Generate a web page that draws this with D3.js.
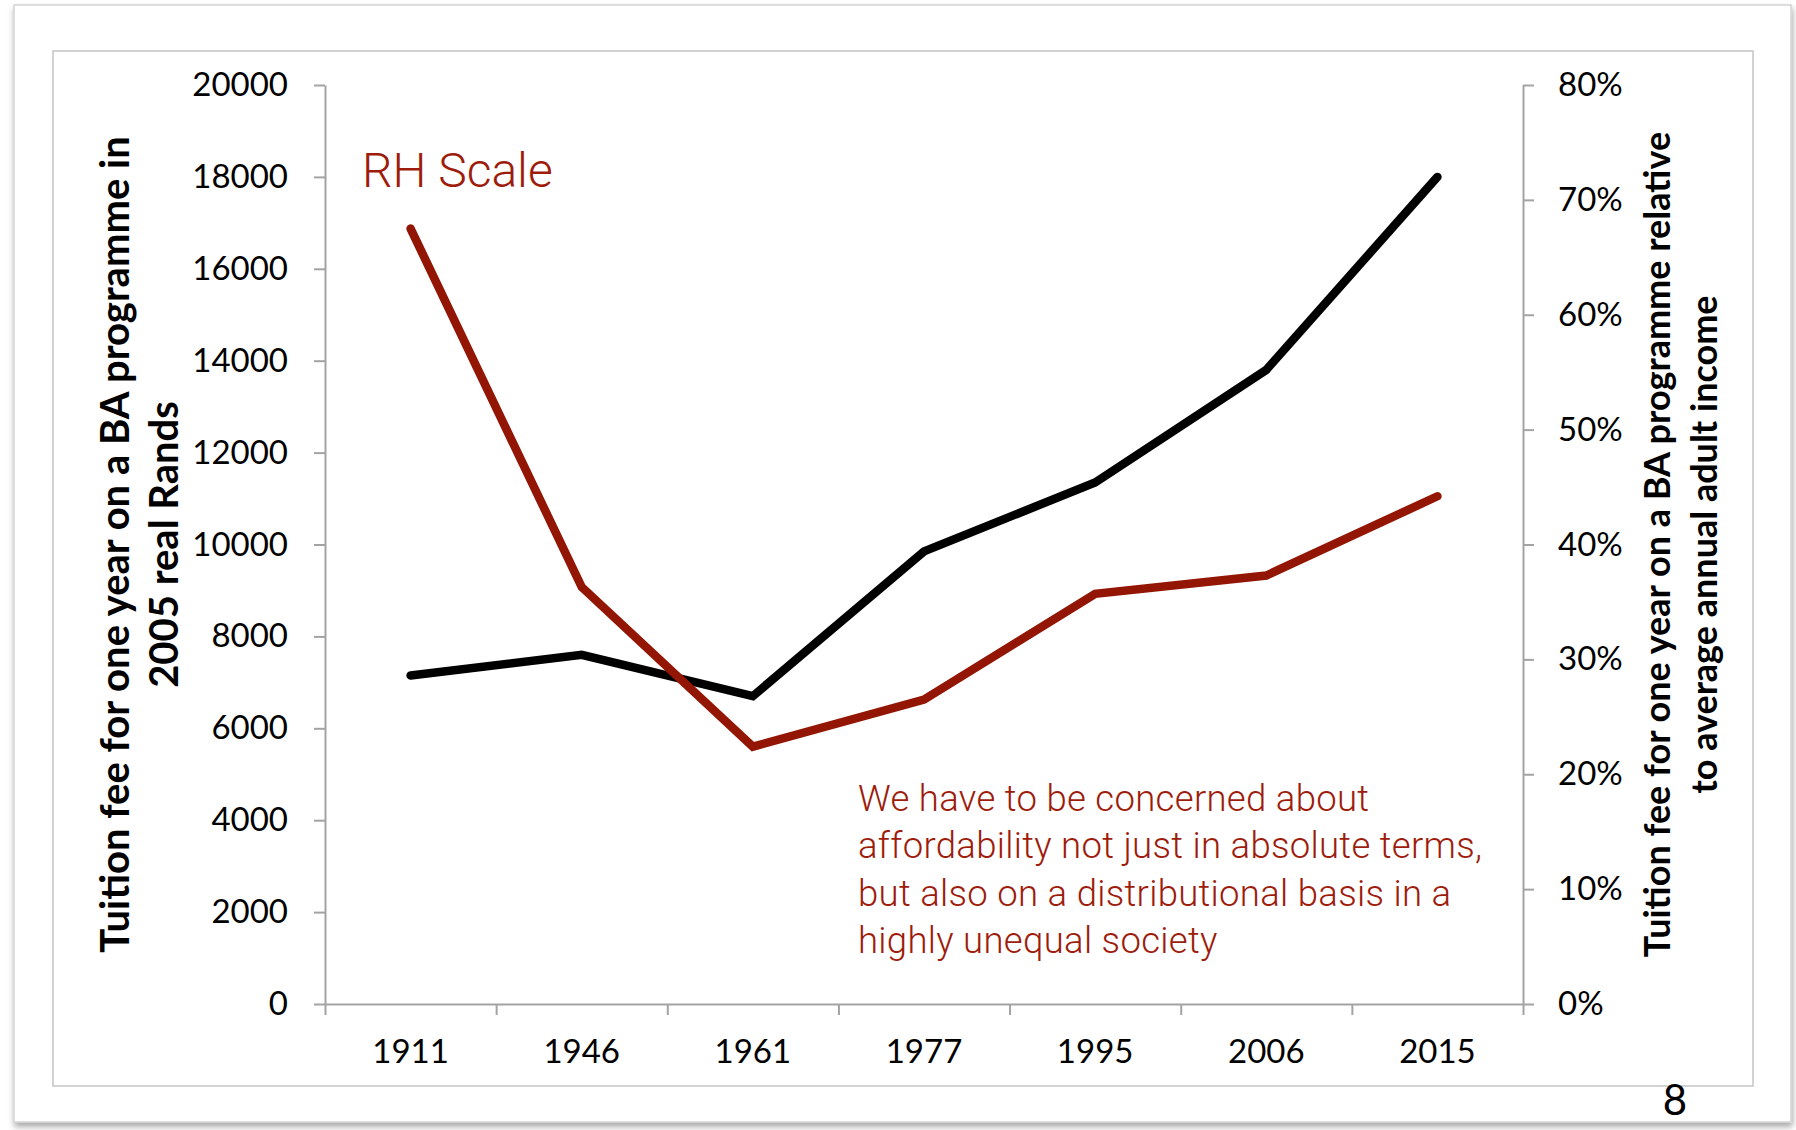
<!DOCTYPE html>
<html>
<head>
<meta charset="utf-8">
<script src="https://cdn.jsdelivr.net/npm/d3@7"></script>
<style>
  html, body { margin: 0; padding: 0; background: #ffffff; }
  svg { display: block; }
  .tick text { font-family: Lato, "Open Sans", sans-serif; }
</style>
</head>
<body>
<svg id="chart" width="1796" height="1130"></svg>
<script>
// Survey years (category axis)
const years = ["1911", "1946", "1961", "1977", "1995", "2006", "2015"];
// Tuition fee for one year of a BA, 2005 real Rands (left scale)
const feeRands = [7150, 7600, 6700, 9850, 11350, 13800, 18000];
// Same fee as a share of average annual adult income (right scale)
const feeShareOfIncome = [0.675, 0.363, 0.224, 0.265, 0.357, 0.373, 0.442];
// Axis tick values
const leftTicks = [0, 2000, 4000, 6000, 8000, 10000, 12000, 14000, 16000, 18000, 20000];
const rightTicks = [0, 0.1, 0.2, 0.3, 0.4, 0.5, 0.6, 0.7, 0.8];

const leftTitle = ["Tuition fee for one year on a BA programme in", "2005 real Rands"];
const rightTitle = ["Tuition fee for one year on a BA programme relative", "to average annual adult income"];
const noteLines = [
  "We have to be concerned about",
  "affordability not just in absolute terms,",
  "but also on a distributional basis in a",
  "highly unequal society"
];

const svg = d3.select("#chart");
const RED_LINE = "#931604";
const RED_TEXT = "#9d1c0c";
const AXIS = "#a3a3a3";
const labelFont = "Lato, 'Open Sans', sans-serif";
const lightFont = "Roboto, 'Helvetica Neue', Arial, sans-serif";

// Slide page with soft shadow
const defs = svg.append("defs");
const sh = defs.append("filter").attr("id", "pageShadow")
  .attr("x", "-2%").attr("y", "-2%").attr("width", "104%").attr("height", "106%");
sh.append("feDropShadow").attr("dx", 1).attr("dy", 4).attr("stdDeviation", 3)
  .attr("flood-color", "#000").attr("flood-opacity", 0.35);

svg.append("rect").attr("x", 14).attr("y", 5).attr("width", 1777).attr("height", 1117)
  .attr("fill", "#fff").attr("stroke", "#d4d4d4").attr("stroke-width", 1.5)
  .attr("filter", "url(#pageShadow)");

// Chart frame
svg.append("rect").attr("x", 53).attr("y", 51).attr("width", 1700).attr("height", 1035)
  .attr("fill", "#fff").attr("stroke", "#c4c4c4").attr("stroke-width", 1.5);

// Plot area
const plot = { left: 325, right: 1523, top: 85, bottom: 1004 };

const x = d3.scaleBand().domain(years).range([plot.left, plot.right]).padding(0);
const yL = d3.scaleLinear().domain([0, 20000]).range([plot.bottom, plot.top]);
const yR = d3.scaleLinear().domain([0, 0.8]).range([plot.bottom, plot.top]);

function styleAxis(g) {
  g.selectAll("path.domain").attr("stroke", AXIS).attr("stroke-width", 2);
  g.selectAll(".tick line").attr("stroke", AXIS).attr("stroke-width", 2);
  g.selectAll(".tick text").attr("fill", "#000").style("font-size", "33px")
    .style("font-family", labelFont);
}

// Left axis
const gL = svg.append("g").attr("transform", `translate(${plot.left},0)`)
  .call(d3.axisLeft(yL).tickValues(leftTicks).tickFormat(d3.format("d"))
    .tickSize(11).tickSizeOuter(0).tickPadding(26));
styleAxis(gL);

// Right axis
const gR = svg.append("g").attr("transform", `translate(${plot.right},0)`)
  .call(d3.axisRight(yR).tickValues(rightTicks).tickFormat(d3.format(".0%"))
    .tickSize(11).tickSizeOuter(0).tickPadding(24));
styleAxis(gR);

// Bottom axis: tick marks on category boundaries, labels centred in bands
const xEdge = d3.scaleLinear().domain([0, years.length]).range([plot.left, plot.right]);
const gB = svg.append("g").attr("transform", `translate(0,${plot.bottom})`)
  .call(d3.axisBottom(xEdge).tickValues(d3.range(0, years.length + 1))
    .tickFormat("").tickSize(11).tickSizeOuter(0));
styleAxis(gB);
const gBL = svg.append("g").attr("transform", `translate(0,${plot.bottom})`)
  .call(d3.axisBottom(x).tickSize(0).tickPadding(36));
gBL.select("path.domain").remove();
styleAxis(gBL);

// Axis titles
function axisTitle(lines, cy, firstX, gap, size) {
  const t = svg.append("text")
    .attr("transform", `translate(${firstX},${cy}) rotate(-90)`)
    .attr("text-anchor", "middle")
    .style("font-family", labelFont).style("font-weight", 700)
    .style("font-size", size + "px").attr("fill", "#000");
  lines.forEach((s, i) => {
    t.append("tspan").attr("x", 0).attr("y", i * gap).text(s);
  });
}
const midY = (plot.top + plot.bottom) / 2;
axisTitle(leftTitle, midY, 129, 49, 40);
axisTitle(rightTitle, midY, 1670, 47, 36);

// Series lines
const lineL = d3.line().x((d, i) => x(years[i]) + x.bandwidth() / 2).y(d => yL(d));
const lineR = d3.line().x((d, i) => x(years[i]) + x.bandwidth() / 2).y(d => yR(d));

svg.append("path").datum(feeRands).attr("d", lineL)
  .attr("fill", "none").attr("stroke", "#000").attr("stroke-width", 8.5)
  .attr("stroke-linejoin", "miter").attr("stroke-linecap", "round");

svg.append("path").datum(feeShareOfIncome).attr("d", lineR)
  .attr("fill", "none").attr("stroke", RED_LINE).attr("stroke-width", 8.5)
  .attr("stroke-linejoin", "miter").attr("stroke-linecap", "round");

// Annotations
svg.append("text").attr("x", 362).attr("y", 187)
  .style("font-family", lightFont).style("font-weight", 300).style("font-size", "48px")
  .attr("fill", RED_TEXT).text("RH Scale");

const note = svg.append("text")
  .style("font-family", lightFont).style("font-weight", 300).style("font-size", "36.5px")
  .style("letter-spacing", "0.3px")
  .attr("fill", RED_TEXT);
noteLines.forEach((s, i) => {
  note.append("tspan").attr("x", 858).attr("y", 811 + i * 47.3).text(s);
});

// Slide number
svg.append("text").attr("x", 1675).attr("y", 1115).attr("text-anchor", "middle")
  .style("font-family", labelFont).style("font-size", "42px").attr("fill", "#000").text("8");
</script>
</body>
</html>
